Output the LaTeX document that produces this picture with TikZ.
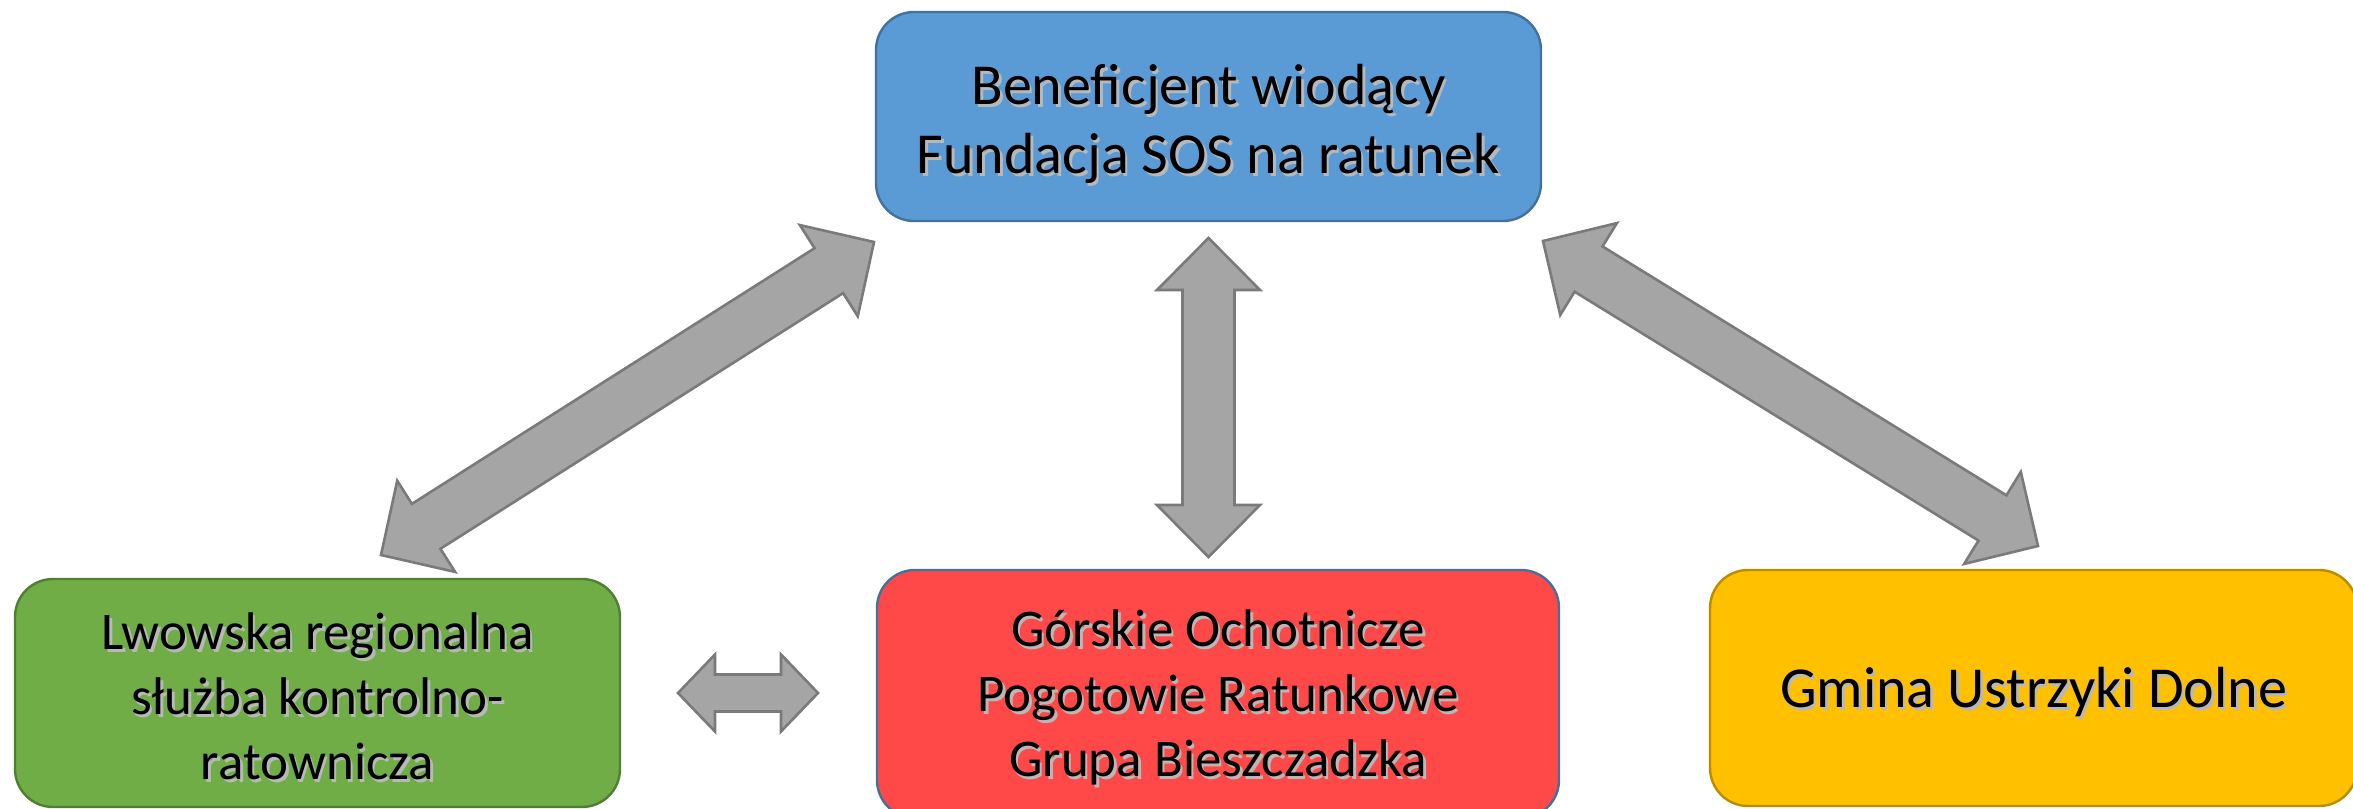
\documentclass[tikz,border=0pt]{standalone}
\usepackage{fontspec}
\setmainfont{Carlito}
\usetikzlibrary{calc}
\definecolor{blueF}{HTML}{5B9BD5}
\definecolor{blueD}{HTML}{41719C}
\definecolor{greenF}{HTML}{70AD47}
\definecolor{greenD}{HTML}{507E32}
\definecolor{redF}{HTML}{FF4949}
\definecolor{yellowF}{HTML}{FFC000}
\definecolor{yellowD}{HTML}{BC8C00}
\definecolor{arrowF}{HTML}{A5A5A5}
\definecolor{arrowD}{HTML}{7A7A7A}
\newcommand\shtext[2][3pt]{\raisebox{-#1}[\height][\depth]{\begingroup\setbox0\hbox{\begin{tabular}{@{}c@{}}#2\end{tabular}}\rlap{\hspace{1.3pt}\raisebox{-1.3pt}{\color{black!28}\begin{tabular}{@{}c@{}}#2\end{tabular}}}\box0\endgroup}}
\newcommand\dblarrow[5]{%
\draw[blockarrow] (#1)
 -- ($(#1)!#5!(#2)!#4!90:(#2)$)
 -- ($(#1)!#5!(#2)!#3!90:(#2)$)
 -- ($(#2)!#5!(#1)!#3!-90:(#1)$)
 -- ($(#2)!#5!(#1)!#4!-90:(#1)$)
 -- (#2)
 -- ($(#2)!#5!(#1)!#4!90:(#1)$)
 -- ($(#2)!#5!(#1)!#3!90:(#1)$)
 -- ($(#1)!#5!(#2)!#3!-90:(#2)$)
 -- ($(#1)!#5!(#2)!#4!-90:(#2)$)
 -- cycle;}
\tikzset{
  box/.style={rounded corners=19pt, draw, line width=1.2pt, inner sep=0pt,
    font=\fontsize{29}{34.5}\selectfont, text=black},
  smalltext/.style={font=\fontsize{26.5}{32.5}\selectfont},
  blockarrow/.style={fill=arrowF, draw=arrowD, line width=1.3pt}
}
\begin{document}
\begin{tikzpicture}[x=0.5pt,y=-0.5pt]
\useasboundingbox (0,0) rectangle (2353,808);
\begin{scope}
\clip (0,0) rectangle (2353,808);
\node[box, fill=blueF, draw=blueD, minimum width=332.5pt, minimum height=104.5pt] (top) at (1208.5,116.5)
  {\shtext[5pt]{Beneficjent wiodący\\Fundacja SOS na ratunek}};
\node[box, smalltext, fill=greenF, draw=greenD, minimum width=302.5pt, minimum height=114pt] (lwow) at (317.5,693)
  {\shtext[5pt]{Lwowska regionalna\\służba kontrolno-\\ratownicza}};
\node[box, smalltext, fill=redF, draw=blueD, minimum width=341pt, minimum height=124pt] (gopr) at (1218,694)
  {\shtext[3pt]{Górskie Ochotnicze\\Pogotowie Ratunkowe\\Grupa Bieszczadzka}};
\node[box, fill=yellowF, draw=yellowD, minimum width=323.5pt, minimum height=118pt] (gmina) at (2033.5,688)
  {\shtext[3.5pt]{Gmina Ustrzyki Dolne}};
\end{scope}
\coordinate (aL1) at (381,555);
\coordinate (aL2) at (874,242);
\coordinate (aR1) at (1543,241);
\coordinate (aR2) at (2038,546);
\coordinate (aV1) at (1208.5,238);
\coordinate (aV2) at (1208.5,557);
\coordinate (aH1) at (678,693);
\coordinate (aH2) at (818,693);
\dblarrow{aL1}{aL2}{13.3pt}{27pt}{26.75pt}
\dblarrow{aR1}{aR2}{13.3pt}{27pt}{26.75pt}
\dblarrow{aV1}{aV2}{13pt}{25.75pt}{26pt}
\dblarrow{aH1}{aH2}{9.25pt}{19.25pt}{18.5pt}
\end{tikzpicture}
\end{document}
